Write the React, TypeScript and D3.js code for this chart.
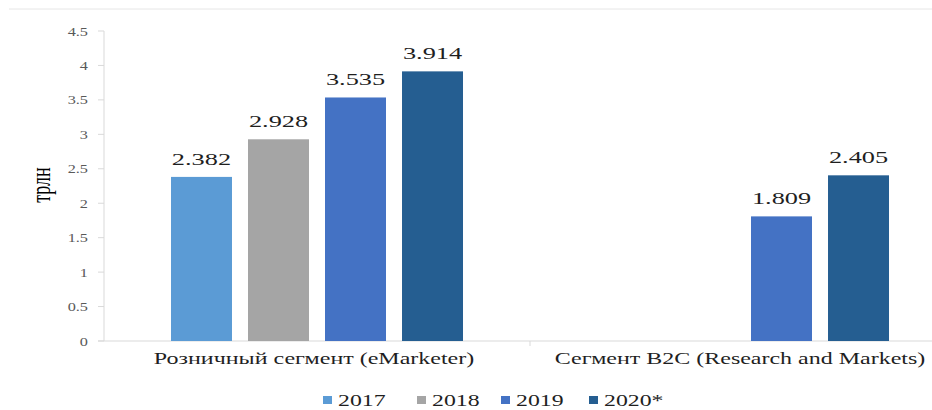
import React from "react";
import * as d3 from "d3";

// Market volume, trillion
const categories = ["Розничный сегмент (eMarketer)", "Сегмент B2C (Research and Markets)"];
const years = ["2017", "2018", "2019", "2020*"];
const retailValues: (number | null)[] = [2.382, 2.928, 3.535, 3.914];
const b2cValues: (number | null)[] = [null, null, 1.809, 2.405];
const yTicks = [0, 0.5, 1, 1.5, 2, 2.5, 3, 3.5, 4, 4.5];
const colors = ["#5B9BD5", "#A5A5A5", "#4472C4", "#255E91"];
const yLabel = "трлн";

const W = 932;
const H = 410;
const plotLeft = 104;
const plotRight = 956;
const plotTop = 31;
const plotBottom = 341;

const serif = "'Times New Roman', 'Liberation Serif', Times, serif";

function Txt(props: {
  x: number;
  y: number;
  size: number;
  anchor?: "start" | "middle" | "end";
  fill?: string;
  sx?: number;
  children: React.ReactNode;
}) {
  const { x, y, size, anchor = "middle", fill = "#1f1f1f", sx = 1.55, children } = props;
  return (
    <text
      transform={`translate(${x},${y}) scale(${sx},1)`}
      fontFamily={serif}
      fontSize={size}
      textAnchor={anchor}
      fill={fill}
    >
      {children}
    </text>
  );
}

export default function App() {
  const series = [retailValues, b2cValues];

  const y = d3.scaleLinear().domain([0, 4.5]).range([plotBottom, plotTop]);
  const x0 = d3.scaleBand<string>().domain(categories).range([plotLeft, plotRight]).padding(0);
  const x1 = d3
    .scaleBand<string>()
    .domain(years)
    .range([0, x0.bandwidth()])
    .paddingInner(0.208)
    .paddingOuter(0.87);

  const legendX = [323, 417, 501, 589];

  return (
    <svg width={W} height={H} style={{ position: "absolute", left: 0, top: 0, background: "#fff" }}>
      <rect x={0} y={0} width={W} height={H} fill="#fff" />
      {/* frame edge at the top */}
      <line x1={9} x2={W} y1={9} y2={9} stroke="#e6e6e6" strokeWidth={1} />

      {/* y axis */}
      <line x1={plotLeft} x2={plotLeft} y1={plotTop} y2={plotBottom} stroke="#d9d9d9" />
      {yTicks.map((t) => (
        <g key={t}>
          <line x1={plotLeft - 6} x2={plotLeft} y1={y(t)} y2={y(t)} stroke="#d9d9d9" />
          <Txt x={88} y={y(t) + 4.5} size={13} anchor="end" fill="#595959" sx={1.25}>
            {String(t)}
          </Txt>
        </g>
      ))}
      <text
        transform={`translate(50,185) scale(1.55,1) rotate(-90)`}
        fontFamily={serif}
        fontSize={18}
        textAnchor="middle"
        fill="#000"
      >
        {yLabel}
      </text>

      {/* x axis */}
      <line x1={plotLeft - 6} x2={W} y1={plotBottom} y2={plotBottom} stroke="#d9d9d9" />
      {categories.slice(1).map((c) => (
        <line
          key={c}
          x1={x0(c)!}
          x2={x0(c)!}
          y1={plotBottom}
          y2={plotBottom + 5}
          stroke="#d9d9d9"
        />
      ))}

      {/* bars and value labels */}
      {categories.map((c, ci) =>
        years.map((yr, yi) => {
          const v = series[ci][yi];
          if (v == null) return null;
          const bx = x0(c)! + x1(yr)!;
          const bw = x1.bandwidth();
          return (
            <g key={c + yr}>
              <rect x={bx} y={y(v)} width={bw} height={plotBottom - y(v)} fill={colors[yi]} />
              <Txt x={bx + bw / 2} y={y(v) - 12} size={17}>
                {v.toFixed(3)}
              </Txt>
            </g>
          );
        })
      )}

      {/* category labels */}
      {categories.map((c) => (
        <Txt key={c} x={x0(c)! + x0.bandwidth() / 2 - 3} y={364} size={16} sx={1.5}>
          {c}
        </Txt>
      ))}

      {/* legend */}
      {years.map((yr, i) => (
        <g key={yr}>
          <rect x={legendX[i]} y={396} width={9} height={8} fill={colors[i]} />
          <Txt x={legendX[i] + 15} y={406} size={17} anchor="start" sx={1.4}>
            {yr}
          </Txt>
        </g>
      ))}
    </svg>
  );
}
